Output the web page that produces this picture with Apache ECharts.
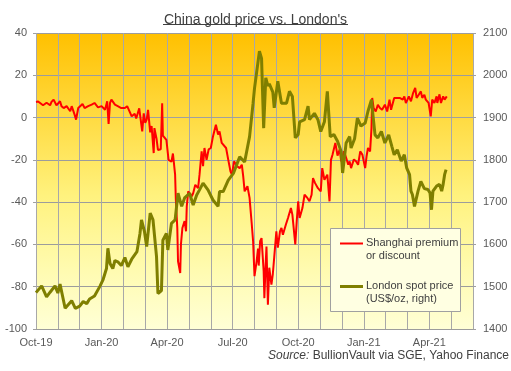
<!DOCTYPE html>
<html>
<head>
<meta charset="utf-8">
<script src="https://cdn.jsdelivr.net/npm/echarts@6/dist/echarts.min.js"></script>
<style>
html,body{margin:0;padding:0;background:#fff;}
#c{width:511px;height:371px;}
</style>
</head>
<body>
<div id="c"></div>
<script>
// ---- data ----
const xTickLabels = ['Oct-19','Jan-20','Apr-20','Jul-20','Oct-20','Jan-21','Apr-21'];

const londonDates = ['2019-10-01','2019-10-09','2019-10-16','2019-10-21','2019-10-28',
'2019-11-01','2019-11-04','2019-11-11','2019-11-20','2019-11-25',
'2019-12-01','2019-12-06','2019-12-11','2019-12-15','2019-12-22','2019-12-30',
'2020-01-03','2020-01-08','2020-01-10','2020-01-13','2020-01-17','2020-01-20','2020-01-24','2020-01-29',
'2020-02-03','2020-02-07','2020-02-12','2020-02-19','2020-02-23','2020-02-25','2020-02-29',
'2020-03-03','2020-03-08','2020-03-12','2020-03-17','2020-03-19','2020-03-24','2020-03-26','2020-03-31',
'2020-04-02','2020-04-07','2020-04-12','2020-04-16','2020-04-21','2020-04-25',
'2020-05-02','2020-05-07','2020-05-12','2020-05-16','2020-05-21','2020-05-28',
'2020-06-04','2020-06-11','2020-06-13','2020-06-18','2020-06-25',
'2020-07-02','2020-07-11','2020-07-18','2020-07-25','2020-07-30',
'2020-08-01','2020-08-08','2020-08-11','2020-08-14','2020-08-17','2020-08-20','2020-08-22','2020-08-27','2020-08-29',
'2020-09-03','2020-09-08','2020-09-15','2020-09-19','2020-09-23','2020-09-27',
'2020-10-01','2020-10-03','2020-10-10','2020-10-15','2020-10-17','2020-10-24','2020-10-29',
'2020-11-02','2020-11-07','2020-11-11','2020-11-15','2020-11-20','2020-11-25','2020-11-30',
'2020-12-02','2020-12-07','2020-12-12','2020-12-14','2020-12-19','2020-12-23','2020-12-28',
'2021-01-03','2021-01-07','2021-01-12','2021-01-14','2021-01-17','2021-01-21','2021-01-26','2021-01-31',
'2021-02-05','2021-02-09','2021-02-12','2021-02-16','2021-02-21','2021-02-25','2021-02-28',
'2021-03-04','2021-03-06','2021-03-08','2021-03-11','2021-03-16','2021-03-20','2021-03-25','2021-03-30',
'2021-04-02','2021-04-04','2021-04-06','2021-04-11','2021-04-15','2021-04-18','2021-04-20','2021-04-22','2021-04-24'];

const londonPrice = [1486,1502,1476,1487,1502,
1485,1506,1449,1467,1449,
1454,1465,1460,1471,1478,1502,
1516,1543,1591,1555,1543,1562,1559,1550,
1569,1547,1565,1583,1626,1658,1630,
1595,1674,1658,1571,1484,1491,1610,1626,
1587,1650,1658,1721,1690,1710,
1721,1693,1717,1729,1745,1729,
1705,1690,1725,1725,1752,
1768,1807,1795,1855,1934,
1969,2057,2040,1875,1994,1975,1980,1960,1923,
1986,1934,1934,1962,1950,1852,
1860,1890,1895,1927,1895,1910,1895,
1867,1890,1962,1855,1860,1844,1820,
1769,1840,1855,1828,1850,1899,1880,
1887,1915,1942,1907,1859,1852,1867,1840,
1859,1832,1812,1824,1797,1812,1781,
1765,1726,1718,1690,1726,1749,1732,1730,
1722,1682,1726,1738,1742,1726,1742,1765,1777];

const shanghaiDates = ['2019-10-01','2019-10-04','2019-10-06','2019-10-11','2019-10-16','2019-10-21','2019-10-23','2019-10-26','2019-10-30',
'2019-11-04','2019-11-06','2019-11-09','2019-11-13','2019-11-18','2019-11-20','2019-11-24','2019-11-26','2019-11-29',
'2019-12-01','2019-12-05','2019-12-08','2019-12-13','2019-12-18','2019-12-22','2019-12-27',
'2020-01-01','2020-01-06','2020-01-09','2020-01-11','2020-01-13','2020-01-15','2020-01-20','2020-01-24','2020-01-29',
'2020-02-03','2020-02-06','2020-02-10','2020-02-12','2020-02-16','2020-02-18','2020-02-22','2020-02-24','2020-02-26','2020-02-28',
'2020-03-01','2020-03-03','2020-03-05','2020-03-08','2020-03-10','2020-03-13','2020-03-14','2020-03-17','2020-03-19','2020-03-23','2020-03-25','2020-03-26','2020-03-31',
'2020-04-01','2020-04-03','2020-04-07','2020-04-09','2020-04-12','2020-04-13','2020-04-15','2020-04-16','2020-04-19','2020-04-20','2020-04-22','2020-04-25','2020-04-27','2020-04-28','2020-04-30',
'2020-05-05','2020-05-07','2020-05-10','2020-05-14','2020-05-16','2020-05-19','2020-05-21','2020-05-23','2020-05-26','2020-05-29',
'2020-06-01','2020-06-04','2020-06-08','2020-06-11','2020-06-13','2020-06-16','2020-06-18','2020-06-22','2020-06-25','2020-06-28','2020-06-30',
'2020-07-03','2020-07-07','2020-07-11','2020-07-14','2020-07-16','2020-07-18','2020-07-22','2020-07-25','2020-07-28','2020-07-30',
'2020-08-01','2020-08-04','2020-08-06','2020-08-07','2020-08-09','2020-08-11','2020-08-14','2020-08-15','2020-08-17','2020-08-18','2020-08-20','2020-08-22','2020-08-25','2020-08-27','2020-08-29',
'2020-09-01','2020-09-03','2020-09-06','2020-09-08','2020-09-10','2020-09-14','2020-09-17','2020-09-21','2020-09-23','2020-09-27','2020-09-29',
'2020-10-01','2020-10-03','2020-10-07','2020-10-10','2020-10-14','2020-10-17','2020-10-20','2020-10-22','2020-10-25','2020-10-29',
'2020-11-02','2020-11-04','2020-11-07','2020-11-11','2020-11-14','2020-11-16','2020-11-18','2020-11-22','2020-11-25','2020-11-28','2020-11-30',
'2020-12-04','2020-12-07','2020-12-10','2020-12-12','2020-12-14','2020-12-18','2020-12-21','2020-12-24','2020-12-27','2020-12-30',
'2021-01-03','2021-01-05','2021-01-07','2021-01-10','2021-01-12','2021-01-13','2021-01-15','2021-01-18','2021-01-21','2021-01-24','2021-01-27','2021-01-31',
'2021-02-03','2021-02-06','2021-02-08','2021-02-12','2021-02-14','2021-02-19','2021-02-23','2021-02-25','2021-02-27',
'2021-03-01','2021-03-03','2021-03-06','2021-03-09','2021-03-12','2021-03-14','2021-03-17','2021-03-20','2021-03-22','2021-03-25','2021-03-27','2021-03-31',
'2021-04-03','2021-04-05','2021-04-08','2021-04-11','2021-04-12','2021-04-15','2021-04-17','2021-04-20','2021-04-22','2021-04-25'];

const shanghaiPremium = [7.4,7.6,7.0,5.8,7.0,5.8,7.4,8.5,5.8,
7.7,5.4,4.5,5.4,3.0,5.4,1.4,-1.0,4.5,
3.7,6.4,4.5,5.4,6.1,6.9,4.8,
5.4,3.7,7.7,-3.0,6.9,8.5,6.1,5.4,4.5,
4.5,5.4,2.2,0.6,1.8,-0.4,4.4,5.3,-6.5,2.0,
-2.5,-1.0,3.6,-7.0,-4.0,-16.8,-5.0,-10.0,-15.3,-15.0,6.8,-8.5,-10.6,
-9.7,-20.0,-20.9,-17.0,-27.0,-38.9,-52.2,-68.0,-73.5,-60.0,-52.2,-49.0,-53.8,-42.0,-34.9,
-37.3,-35.8,-31.8,-33.4,-27.0,-16.0,-23.0,-14.4,-20.0,-15.0,
-14.4,-8.9,-3.4,-8.0,-6.5,-12.0,-12.8,-14.4,-20.0,-25.4,-27.0,
-20.7,-23.0,-23.9,-22.3,-27.8,-34.9,-32.5,-38.0,-50.0,-58.5,
-75.0,-68.0,-62.0,-70.0,-58.5,-57.0,-72.7,-85.4,-68.0,-61.0,-88.5,-71.0,-79.0,-74.0,-66.0,
-53.8,-61.5,-53.8,-52.2,-55.4,-50.7,-47.5,-42.8,-45.9,-60.0,-49.0,
-39.6,-47.5,-42.8,-36.5,-38.0,-39.6,-36.5,-28.6,-31.0,-33.4,
-34.9,-23.9,-29.4,-27.0,-39.6,-20.0,-17.7,-12.0,-18.0,-15.0,-20.7,
-16.0,-19.0,-22.3,-20.7,-23.9,-19.8,-20.7,-22.3,-16.0,-17.5,
-23.9,-18.3,-14.4,-16.0,-4.9,9.3,4.5,2.9,6.1,4.5,3.7,6.1,
2.9,8.5,3.7,9.3,8.5,9.3,8.5,10.0,6.9,
8.5,10.0,7.7,11.6,14.0,9.3,10.8,12.4,9.3,10.8,8.5,6.9,
0.6,8.5,6.9,10.0,6.9,11.0,6.9,10.0,8.5,10.0];

// ---- helpers ----
function monthIndex(s){
  const p = s.split('-').map(Number);
  const k = (p[0]-2019)*12 + (p[1]-10);
  const dim = new Date(p[0], p[1], 0).getDate();
  return k + (p[2]-1)/dim;
}

const chart = echarts.init(document.getElementById('c'), null, {renderer:'canvas'});
const FONT = 'Liberation Sans, Arial, sans-serif';
const gridLeft = 36, gridTop = 33, gridRight = 38, gridBottom = 42;

const option = {
  animation: false,
  backgroundColor: '#ffffff',
  title: {
    text: "China gold price vs. London's",
    left: 'center', top: 8,
    textStyle: {fontFamily: FONT, fontSize: 14, fontWeight: 'normal', color: '#404040'}
  },
  grid: {
    left: gridLeft, right: gridRight, top: gridTop, bottom: gridBottom,
    show: true, borderWidth: 0,
    backgroundColor: new echarts.graphic.LinearGradient(0,0,0,1,[
      {offset:0, color:'#FFC000'},
      {offset:0.3, color:'#FFDC45'},
      {offset:0.55, color:'#FFF27E'},
      {offset:0.8, color:'#FFFBB0'},
      {offset:1, color:'#FFFFD6'}
    ])
  },
  xAxis: {
    type: 'value', min: 0, max: 20, interval: 1,
    axisLine: {show: true, lineStyle: {color: '#A0A0A0', width: 1}},
    axisTick: {show: false},
    splitLine: {show: true, lineStyle: {color: '#A8A8A8', width: 1}},
    axisLabel: {
      fontFamily: FONT, fontSize: 11, color: '#595959', margin: 8,
      formatter: function(v){ return (v % 3 === 0) ? (xTickLabels[v/3] || '') : ''; }
    }
  },
  yAxis: [
    {
      type: 'value', min: -100, max: 40, interval: 20, position: 'left',
      axisLine: {show: false},
      axisTick: {show: true, length: 3, lineStyle: {color: '#A0A0A0'}},
      splitLine: {show: true, lineStyle: {color: '#9C9C9C', width: 1}},
      axisLabel: {fontFamily: FONT, fontSize: 11, color: '#595959', margin: 9}
    },
    {
      type: 'value', min: 1400, max: 2100, interval: 100, position: 'right',
      axisLine: {show: false},
      axisTick: {show: true, length: 3, lineStyle: {color: '#A0A0A0'}},
      splitLine: {show: false},
      axisLabel: {fontFamily: FONT, fontSize: 11, color: '#595959', margin: 10,
        formatter: function(v){ return String(v); }}
    }
  ],
  series: [
    {
      name: 'Shanghai premium or discount', type: 'line', yAxisIndex: 0,
      showSymbol: false, symbol: 'none', z: 3,
      lineStyle: {color: '#FF0000', width: 2},
      data: shanghaiDates.map(function(d,i){ return [monthIndex(d), shanghaiPremium[i]]; })
    },
    {
      name: 'London spot price (US$/oz, right)', type: 'line', yAxisIndex: 1,
      showSymbol: false, symbol: 'none', z: 4,
      lineStyle: {color: '#7F7F00', width: 3},
      data: londonDates.map(function(d,i){ return [monthIndex(d), londonPrice[i]]; })
    }
  ],
  graphic: [
    // title underline
    {type:'line', shape:{x1:163, y1:24.5, x2:348, y2:24.5}, style:{stroke:'#404040', lineWidth:1}, z:10},
    // legend box
    {type:'rect', shape:{x:330.5, y:228.5, width:130, height:83}, style:{fill:'#FFFFE2', stroke:'#A0A0A0', lineWidth:1}, z:20},
    {type:'line', shape:{x1:340, y1:243.5, x2:363, y2:243.5}, style:{stroke:'#FF0000', lineWidth:2}, z:21},
    {type:'text', x:366, y:243, style:{text:'Shanghai premium', fontFamily:FONT, fontSize:11, fill:'#404040', verticalAlign:'middle'}, z:21},
    {type:'text', x:366, y:256, style:{text:'or discount', fontFamily:FONT, fontSize:11, fill:'#404040', verticalAlign:'middle'}, z:21},
    {type:'line', shape:{x1:340, y1:286.5, x2:363, y2:286.5}, style:{stroke:'#7F7F00', lineWidth:3}, z:21},
    {type:'text', x:366, y:286, style:{text:'London spot price', fontFamily:FONT, fontSize:11, fill:'#404040', verticalAlign:'middle'}, z:21},
    {type:'text', x:366, y:299, style:{text:'(US$/oz, right)', fontFamily:FONT, fontSize:11, fill:'#404040', verticalAlign:'middle'}, z:21},
    // source
    {type:'text', right:2, top:350, style:{
      text:'{i|Source:} BullionVault via SGE, Yahoo Finance',
      fontFamily:FONT, fontSize:12, fill:'#404040',
      rich:{i:{fontStyle:'italic', fontFamily:FONT, fontSize:12, fill:'#404040'}}
    }, z:21}
  ]
};
chart.setOption(option);
</script>
</body>
</html>
